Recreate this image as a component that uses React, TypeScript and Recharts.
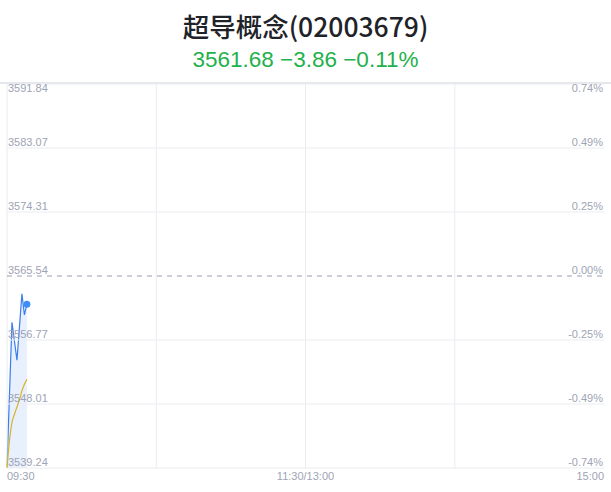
import React from 'react'
import {
    ComposedChart,
    Area,
    Line,
    XAxis,
    YAxis,
    ReferenceLine,
} from 'recharts'

// previous close and axis scale
const BASE = 3565.54
const Y_TICKS = [3539.24, 3548.01, 3556.77, 3565.54, 3574.31, 3583.07, 3591.84]
const GRID_TIMES = [0, 60, 120, 180]
const X_TICKS = [0, 120, 240]
const X_TICK_LABELS = ['09:30', '11:30/13:00', '15:00']

// minutes since open
const minutes = [0, 1, 2, 3, 4, 5, 6, 7, 8]
const prices = [3539.5, 3549.3, 3559.2, 3556.6, 3554.0, 3558.5, 3563.1, 3560.2, 3561.68]
const avgPrices = [3539.24, 3543.0, 3545.5, 3546.6, 3547.6, 3548.6, 3549.8, 3550.7, 3551.4]

const data = minutes.map((t, i) => ({ t, price: prices[i], avg: avgPrices[i] }))

const W = 611
const H = 492
const PLOT_LEFT = 8
const PLOT_RIGHT = 603
const LABEL_Y = 480
const GRID = '#eaecf0'
const TICK = '#9ea3b5'
const Y_MAX = Y_TICKS[Y_TICKS.length - 1]
const Y_MIN = Y_TICKS[0]

const fmtPct = (v: number) => ((v - BASE) / BASE * 100).toFixed(2) + '%'

const LeftTick = (props: any) => {
    const { y, payload } = props
    const top = payload.value === Y_MAX
    return (
        <text x={PLOT_LEFT} y={top ? y + 8 : y - 2} fill={TICK} fontSize={11}
            fontFamily="Liberation Sans, Arial, sans-serif" textAnchor="start">
            {payload.value.toFixed(2)}
        </text>
    )
}

const RightTick = (props: any) => {
    const { y, payload } = props
    const top = payload.value === Y_MAX
    return (
        <text x={PLOT_RIGHT} y={top ? y + 8 : y - 2} fill={TICK} fontSize={11}
            fontFamily="Liberation Sans, Arial, sans-serif" textAnchor="end">
            {fmtPct(payload.value)}
        </text>
    )
}

const TimeTick = (props: any) => {
    const { x, index } = props
    const anchor = index === 0 ? 'start' : index === X_TICKS.length - 1 ? 'end' : 'middle'
    return (
        <text x={x} y={LABEL_Y} fill={TICK} fontSize={11}
            fontFamily="Liberation Sans, Arial, sans-serif" textAnchor={anchor}>
            {X_TICK_LABELS[index]}
        </text>
    )
}

const LastDot = (props: any) => {
    const { cx, cy, index } = props
    if (index !== data.length - 1) return null
    return <circle key="last" cx={cx} cy={cy} r={3.5} fill="#3d8ef8" />
}

export default function App() {
    return (
        <div style={{ position: 'absolute', left: 0, top: 0, width: W, height: H, background: '#fff' }}>
            <div style={{
                position: 'absolute', top: 8, left: 0, width: W, textAlign: 'center',
                fontSize: 26.5, lineHeight: '36px', color: '#1f2329', fontWeight: 500,
                fontFamily: '"Noto Sans CJK SC", sans-serif',
            }}>
                超导概念(02003679)
            </div>
            <div style={{
                position: 'absolute', top: 46, left: 0, width: W, textAlign: 'center',
                fontSize: 22.5, lineHeight: '28px', color: '#1fb14b',
                fontFamily: '"Liberation Sans", Arial, sans-serif',
            }}>
                3561.68 −3.86 −0.11%
            </div>
            <div style={{ position: 'absolute', top: 82, left: 0, width: W, height: 2, background: '#e6e7ec' }} />
            <div style={{ position: 'absolute', top: 0, left: 0 }}>
                <ComposedChart width={W} height={H} data={data}
                    margin={{ top: 84, right: 7, bottom: 23, left: 7 }}>
                    <XAxis dataKey="t" type="number" domain={[0, 240]} ticks={X_TICKS}
                        axisLine={false} tickLine={false} height={1} tick={<TimeTick />} interval={0} />
                    <YAxis yAxisId="left" domain={[Y_MIN, Y_MAX]} ticks={Y_TICKS} width={1}
                        axisLine={false} tickLine={false} mirror tick={<LeftTick />} interval={0} />
                    <YAxis yAxisId="right" orientation="right" domain={[Y_MIN, Y_MAX]} ticks={Y_TICKS} width={1}
                        axisLine={false} tickLine={false} mirror tick={<RightTick />} interval={0} />
                    {Y_TICKS.filter(v => v !== BASE).map(v => (
                        <ReferenceLine key={'h' + v} yAxisId="left" y={v} stroke={GRID} strokeWidth={1} />
                    ))}
                    {GRID_TIMES.map(t => (
                        <ReferenceLine key={'v' + t} yAxisId="left" x={t} stroke={GRID} strokeWidth={1} />
                    ))}
                    <ReferenceLine yAxisId="left" y={BASE} stroke="#9a9db5" strokeDasharray="5 5" />
                    {/* invisible series so the percent axis gets laid out */}
                    <Line yAxisId="right" dataKey="price" stroke="none" dot={false} activeDot={false}
                        isAnimationActive={false} />
                    <Area yAxisId="left" type="linear" dataKey="price" stroke="#3b7ded" strokeWidth={1.2}
                        fill="#e8f0fd" fillOpacity={1} dot={<LastDot />} activeDot={false}
                        isAnimationActive={false} />
                    <Line yAxisId="left" type="monotone" dataKey="avg" stroke="#d8b325" strokeWidth={1.2}
                        dot={false} activeDot={false} isAnimationActive={false} />
                </ComposedChart>
            </div>
        </div>
    )
}
